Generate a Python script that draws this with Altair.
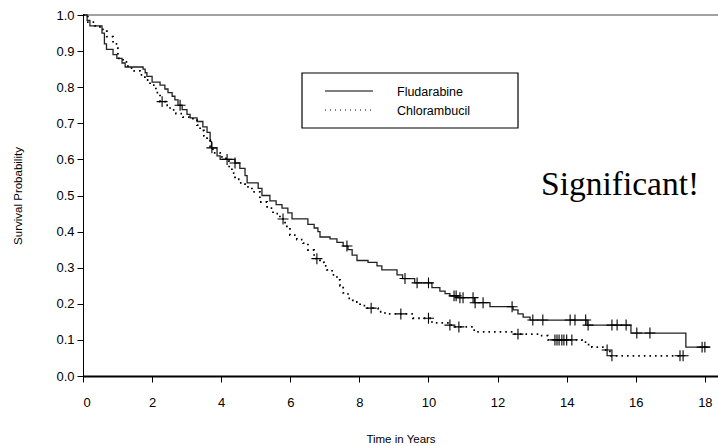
import altair as alt
import pandas as pd

series = ["Fludarabine", "Chlorambucil"]

flu_t = [0, 0.12, 0.20, 0.55, 0.62, 0.68, 0.87, 0.98, 1.13, 1.22, 1.74, 1.80, 1.85, 2.00,
         2.23, 2.37, 2.46, 2.58, 2.66, 2.75, 2.87, 3.01, 3.10, 3.30, 3.47, 3.59, 3.68, 3.72,
         3.88, 3.97, 4.40, 4.54, 4.69, 4.75, 5.07, 5.18, 5.41, 5.59, 5.76, 5.93, 6.05, 6.51,
         6.69, 6.80, 6.86, 7.15, 7.35, 7.53, 7.67, 7.79, 7.93, 8.25, 8.51, 8.65, 9.09, 9.25,
         9.60, 10.10, 10.33, 10.48, 10.62, 10.85, 11.33, 11.78, 12.45, 12.59, 12.74, 12.94,
         14.59, 15.86, 17.45, 18.15]
flu_s = [1.0, 0.985, 0.97, 0.95, 0.92, 0.905, 0.89, 0.88, 0.867, 0.856, 0.85, 0.84, 0.83, 0.814,
         0.806, 0.795, 0.785, 0.775, 0.765, 0.75, 0.738, 0.725, 0.715, 0.705, 0.69, 0.675, 0.65, 0.632,
         0.61, 0.60, 0.59, 0.575, 0.555, 0.535, 0.52, 0.50, 0.485, 0.475, 0.465, 0.452, 0.435, 0.42,
         0.41, 0.40, 0.385, 0.38, 0.37, 0.36, 0.35, 0.335, 0.32, 0.315, 0.305, 0.294, 0.28, 0.27,
         0.258, 0.245, 0.235, 0.228, 0.222, 0.217, 0.203, 0.192, 0.183, 0.172, 0.163, 0.155,
         0.141, 0.119, 0.08, 0.08]

chl_t = [0, 0.14, 0.35, 0.49, 0.69, 0.87, 1.01, 1.16, 1.30, 1.48, 1.65, 1.79, 1.94, 2.11, 2.23,
         2.40, 2.52, 2.69, 2.89, 3.18, 3.30, 3.39, 3.50, 3.59, 3.68, 3.76, 3.97, 4.14, 4.23, 4.31,
         4.40, 4.54, 4.69, 4.89, 5.12, 5.33, 5.50, 5.70, 5.85, 5.90, 5.99, 6.19, 6.37, 6.51, 6.69,
         6.86, 6.98, 7.06, 7.21, 7.35, 7.44, 7.53, 7.67, 7.81, 8.02, 8.19, 8.54, 8.74, 9.55, 10.10,
         10.56, 10.77, 11.29, 11.40, 12.50, 13.23, 13.46, 14.44, 14.59, 14.73, 15.08, 15.25, 17.37]
chl_s = [1.0, 0.98, 0.97, 0.96, 0.94, 0.92, 0.88, 0.87, 0.853, 0.845, 0.834, 0.82, 0.806, 0.785, 0.76,
         0.75, 0.737, 0.727, 0.717, 0.709, 0.695, 0.68, 0.665, 0.654, 0.635, 0.618, 0.607, 0.595, 0.575, 0.562,
         0.545, 0.535, 0.524, 0.51, 0.482, 0.465, 0.45, 0.435, 0.425, 0.41, 0.39, 0.378, 0.368, 0.349, 0.325,
         0.315, 0.305, 0.294, 0.28, 0.266, 0.25, 0.23, 0.215, 0.205, 0.195, 0.188, 0.178, 0.172, 0.16, 0.147,
         0.141, 0.136, 0.127, 0.122, 0.116, 0.112, 0.10, 0.094, 0.087, 0.08, 0.072, 0.056, 0.056]

flu_cens = [2.81, 3.73, 4.17, 4.40, 7.64, 9.32, 9.67, 10.0, 10.74, 10.80, 10.91, 11.0, 11.29,
            11.35, 11.58, 12.42, 13.02, 13.31, 14.10, 14.24, 14.55, 14.62, 15.31, 15.46, 15.72,
            16.03, 16.41, 17.92, 18.0]
chl_cens = [2.29, 5.79, 6.77, 8.34, 9.20, 10.0, 10.62, 10.88, 12.59, 13.66, 13.72, 13.78, 13.86,
            13.92, 14.0, 14.15, 15.17, 15.31, 17.28, 17.37]

x_ticks = [0, 2, 4, 6, 8, 10, 12, 14, 16, 18]
y_ticks = [0.0, 0.1, 0.2, 0.3, 0.4, 0.5, 0.6, 0.7, 0.8, 0.9, 1.0]
x_title = "Time in Years"
y_title = "Survival Probability"
note = "Significant!"


def step_value(ts, ss, t):
    v = ss[0]
    for a, b in zip(ts, ss):
        if a <= t:
            v = b
    return v


flu_df = pd.DataFrame({"t": flu_t, "s": flu_s})
chl_df = pd.DataFrame({"t": chl_t, "s": chl_s})
cens_df = pd.DataFrame({
    "t": flu_cens + chl_cens,
    "s": [step_value(flu_t, flu_s, t) for t in flu_cens] + [step_value(chl_t, chl_s, t) for t in chl_cens],
})

FONT = "Liberation Sans"

X = alt.X("t:Q",
          scale=alt.Scale(domain=[0, 18.38], nice=False, zero=False),
          axis=alt.Axis(values=x_ticks, title=x_title, format="d", grid=False,
                        domainColor="black", domainWidth=2, tickColor="black", tickSize=6,
                        labelPadding=14, labelFontSize=13, labelFont=FONT, labelColor="black",
                        titleFont=FONT, titleFontSize=11.5, titleFontWeight="normal",
                        titleColor="black", titlePadding=24))
Y = alt.Y("s:Q",
          scale=alt.Scale(domain=[0, 1], nice=False),
          axis=alt.Axis(values=y_ticks, title=y_title, format=".1f", grid=False,
                        domainColor="black", domainWidth=1, tickColor="black", tickSize=6,
                        labelPadding=3, labelFontSize=13, labelFont=FONT, labelColor="black",
                        titleFont=FONT, titleFontSize=11.5, titleFontWeight="normal",
                        titleColor="black", titlePadding=32))

top_rule = alt.Chart(pd.DataFrame({"s": [1.0]})).mark_rule(color="#444444", strokeWidth=1).encode(y=Y)

flu_line = alt.Chart(flu_df).mark_line(interpolate="step-after", color="#222222", strokeWidth=1.3).encode(x=X, y=Y)
chl_line = alt.Chart(chl_df).mark_line(interpolate="step-after", color="black", strokeWidth=1.8,
                                        strokeDash=[1.6, 4.0]).encode(x=X, y=Y)

crosses = alt.Chart(cens_df).mark_point(shape="M-1,0L1,0M0,-1L0,1", size=120, filled=False,
                                        stroke="black", strokeWidth=1.1, opacity=1).encode(x=X, y=Y)

legend_box = alt.Chart(pd.DataFrame({"k": [0]})).mark_rect(fill="white", stroke="black", strokeWidth=1.2).encode(
    x=alt.value(219), x2=alt.value(435), y=alt.value(58), y2=alt.value(113))
leg_solid = alt.Chart(pd.DataFrame({"k": [0]})).mark_rule(color="black", strokeWidth=1.2).encode(
    x=alt.value(242), x2=alt.value(290), y=alt.value(76))
leg_dot = alt.Chart(pd.DataFrame({"k": [0]})).mark_rule(color="black", strokeWidth=1.2, strokeDash=[1, 4]).encode(
    x=alt.value(242), x2=alt.value(290), y=alt.value(95))
leg_t1 = alt.Chart(pd.DataFrame({"n": [series[0]]})).mark_text(
    align="left", baseline="middle", font=FONT, fontSize=12.5, color="black").encode(
    text="n:N", x=alt.value(314), y=alt.value(77))
leg_t2 = alt.Chart(pd.DataFrame({"n": [series[1]]})).mark_text(
    align="left", baseline="middle", font=FONT, fontSize=12.5, color="black").encode(
    text="n:N", x=alt.value(314), y=alt.value(96))

note_text = alt.Chart(pd.DataFrame({"n": [note]})).mark_text(
    align="left", baseline="middle", font="Liberation Serif", fontSize=33.5, color="black").encode(
    text="n:N", x=alt.value(458), y=alt.value(170))

chart = alt.layer(top_rule, flu_line, chl_line, crosses, legend_box, leg_solid, leg_dot,
                  leg_t1, leg_t2, note_text).properties(
    width=635, height=361,
    padding={"left": 83, "top": 15, "right": 0, "bottom": 70},
    autosize=alt.AutoSizeParams(type="none"),
    background="white",
).configure_view(stroke=None)

chart.save("out.html", embed_options={"renderer": "svg", "actions": False})
